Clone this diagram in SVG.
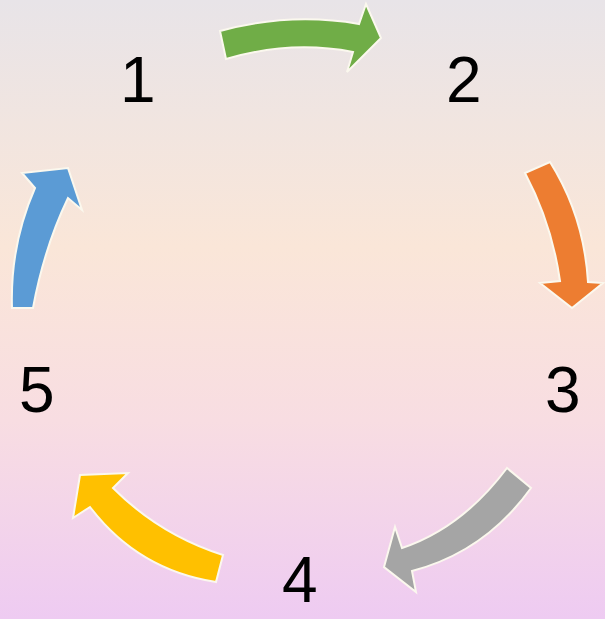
<svg xmlns="http://www.w3.org/2000/svg" width="605" height="619" viewBox="0 0 605 619">
<defs>
<linearGradient id="bg" x1="0" y1="0" x2="0" y2="1">
<stop offset="0" stop-color="#e8e4e8"/>
<stop offset="0.4" stop-color="#fae6d8"/>
<stop offset="0.68" stop-color="#f8dde2"/>
<stop offset="1" stop-color="#eecbf2"/>
</linearGradient>
</defs>
<style>
.arrow{stroke:#fbf8ee;stroke-width:2;stroke-linejoin:miter}
.num{font-family:"Liberation Sans",Arial,sans-serif;font-size:64px;fill:#000}
</style>
<rect width="605" height="619" fill="url(#bg)"/>
<g id="connectors">
<path id="arrow-1-2" class="arrow" fill="#70ad47" d="M220,31 Q290,12 359,24 L366,4 L381,38 L347,72 L353,52 Q290,40 226,59 Z"/>
<path id="arrow-2-3" class="arrow" fill="#ed7d31" d="M525,173 L550,162 Q584,216 588,282 L603,283 L572,308 L540,283 L560,281 Q552,224 525,173 Z"/>
<path id="arrow-3-4" class="arrow" fill="#a5a5a5" d="M507,468 L531,488 Q485,552 412,571 L416,592 L384,567 L395,527 L402,548 Q462,528 507,468 Z"/>
<path id="arrow-4-5" class="arrow" fill="#ffc000" d="M223,555 L216,582 Q138,570 90,507 L73,518 L80,475 L128,473 L113,488 Q160,535 223,555 Z"/>
<path id="arrow-5-1" class="arrow" fill="#5b9bd5" d="M12,308 Q10,245 35,188 L22,173 L68,168 L82,210 L68,198 Q44,248 33,308 Z"/>
</g>
<g id="node-1"><text class="num" x="120" y="102">1</text></g>
<g id="node-2"><text class="num" x="446" y="102">2</text></g>
<g id="node-3"><text class="num" x="545" y="412">3</text></g>
<g id="node-4"><text class="num" x="282" y="602">4</text></g>
<g id="node-5"><text class="num" x="19" y="412">5</text></g>
</svg>
